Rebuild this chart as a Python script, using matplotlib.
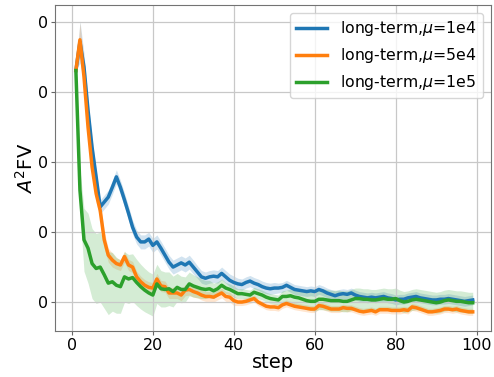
import numpy as np
import matplotlib
matplotlib.use("Agg")
import matplotlib.pyplot as plt
from matplotlib.ticker import FormatStrFormatter

steps = list(range(1, 100))

labels = ["long-term,$\\mu$=1e4", "long-term,$\\mu$=5e4", "long-term,$\\mu$=1e5"]

mean_1e4 = [
    0.331, 0.372, 0.336, 0.274, 0.221, 0.179, 0.136, 0.143, 0.150, 0.164,
    0.179, 0.164, 0.146, 0.127, 0.107, 0.093, 0.086, 0.086, 0.090, 0.081,
    0.086, 0.077, 0.067, 0.057, 0.050, 0.053, 0.056, 0.053, 0.057, 0.050,
    0.043, 0.036, 0.034, 0.036, 0.037, 0.036, 0.041, 0.036, 0.031, 0.028,
    0.026, 0.025, 0.028, 0.030, 0.027, 0.025, 0.022, 0.020, 0.019, 0.020,
    0.020, 0.021, 0.024, 0.021, 0.018, 0.017, 0.016, 0.015, 0.016, 0.015,
    0.018, 0.016, 0.013, 0.011, 0.009, 0.011, 0.012, 0.011, 0.013, 0.010,
    0.008, 0.007, 0.006, 0.007, 0.006, 0.007, 0.008, 0.006, 0.005, 0.003,
    0.004, 0.004, 0.006, 0.007, 0.008, 0.006, 0.005, 0.004, 0.003, 0.003,
    0.004, 0.004, 0.005, 0.004, 0.003, 0.002, 0.001, 0.002, 0.003,
]
mean_5e4 = [
    0.331, 0.375, 0.322, 0.250, 0.193, 0.155, 0.131, 0.089, 0.067, 0.060,
    0.055, 0.053, 0.065, 0.053, 0.050, 0.036, 0.029, 0.024, 0.021, 0.020,
    0.033, 0.023, 0.022, 0.013, 0.013, 0.013, 0.010, 0.017, 0.018, 0.015,
    0.013, 0.010, 0.008, 0.008, 0.007, 0.010, 0.013, 0.008, 0.007, 0.002,
    0.000, 0.000, 0.001, 0.003, 0.005, 0.000, -0.003, -0.006, -0.007, -0.007,
    -0.008, -0.004, -0.002, -0.004, -0.006, -0.007, -0.008, -0.009, -0.010, -0.010,
    -0.005, -0.006, -0.008, -0.010, -0.010, -0.010, -0.008, -0.009, -0.009, -0.011,
    -0.013, -0.014, -0.013, -0.012, -0.014, -0.011, -0.011, -0.011, -0.012, -0.012,
    -0.012, -0.011, -0.012, -0.007, -0.008, -0.010, -0.012, -0.014, -0.014, -0.013,
    -0.012, -0.010, -0.010, -0.011, -0.010, -0.012, -0.013, -0.014, -0.014,
]
mean_1e5 = [
    0.331, 0.160, 0.089, 0.077, 0.055, 0.048, 0.050, 0.039, 0.027, 0.029,
    0.024, 0.022, 0.036, 0.033, 0.035, 0.028, 0.022, 0.017, 0.013, 0.010,
    0.026, 0.019, 0.018, 0.019, 0.015, 0.021, 0.018, 0.018, 0.026, 0.023,
    0.021, 0.019, 0.018, 0.019, 0.016, 0.019, 0.024, 0.020, 0.018, 0.015,
    0.012, 0.012, 0.011, 0.010, 0.014, 0.012, 0.010, 0.007, 0.005, 0.004,
    0.003, 0.008, 0.008, 0.009, 0.007, 0.006, 0.004, 0.002, 0.001, 0.001,
    0.004, 0.004, 0.003, 0.002, 0.002, 0.002, 0.001, 0.001, 0.003, 0.005,
    0.005, 0.004, 0.004, 0.003, 0.003, 0.004, 0.005, 0.004, 0.004, 0.005,
    0.002, 0.000, 0.001, 0.003, 0.004, 0.003, 0.002, 0.001, 0.000, -0.001,
    0.000, 0.002, 0.003, 0.002, 0.001, 0.001, 0.000, -0.001, -0.001,
]

std_1e4 = [
    0.000, 0.030, 0.020, 0.015, 0.012, 0.010, 0.010, 0.010, 0.010, 0.010,
    0.010, 0.010, 0.010, 0.010, 0.010, 0.010, 0.010, 0.010, 0.010, 0.010,
    0.010, 0.010, 0.010, 0.010, 0.010, 0.010, 0.010, 0.010, 0.010, 0.010,
    0.009, 0.009, 0.009, 0.009, 0.009, 0.009, 0.009, 0.009, 0.009, 0.009,
    0.008, 0.008, 0.008, 0.008, 0.008, 0.008, 0.008, 0.008, 0.008, 0.008,
    0.007, 0.007, 0.007, 0.007, 0.007, 0.007, 0.007, 0.007, 0.007, 0.007,
    0.007, 0.007, 0.007, 0.007, 0.007, 0.007, 0.007, 0.007, 0.007, 0.007,
    0.007, 0.007, 0.007, 0.007, 0.007, 0.007, 0.007, 0.007, 0.007, 0.007,
    0.007, 0.007, 0.007, 0.007, 0.007, 0.007, 0.007, 0.007, 0.007, 0.007,
    0.007, 0.007, 0.007, 0.007, 0.007, 0.007, 0.007, 0.007, 0.007,
]
std_5e4 = [
    0.000, 0.025, 0.020, 0.015, 0.015, 0.012, 0.012, 0.012, 0.010, 0.010,
    0.008, 0.008, 0.008, 0.008, 0.008, 0.008, 0.008, 0.008, 0.008, 0.008,
    0.008, 0.008, 0.008, 0.008, 0.008, 0.008, 0.008, 0.008, 0.008, 0.008,
    0.007, 0.007, 0.007, 0.007, 0.007, 0.007, 0.007, 0.007, 0.007, 0.007,
    0.005, 0.005, 0.005, 0.005, 0.005, 0.005, 0.005, 0.005, 0.005, 0.005,
    0.005, 0.005, 0.005, 0.005, 0.005, 0.005, 0.005, 0.005, 0.005, 0.005,
    0.005, 0.005, 0.005, 0.005, 0.005, 0.005, 0.005, 0.005, 0.005, 0.005,
    0.005, 0.005, 0.005, 0.005, 0.005, 0.005, 0.005, 0.005, 0.005, 0.005,
    0.005, 0.005, 0.005, 0.005, 0.005, 0.005, 0.005, 0.005, 0.005, 0.005,
    0.005, 0.005, 0.005, 0.005, 0.005, 0.005, 0.005, 0.005, 0.005,
]
std_1e5 = [
    0.000, 0.030, 0.045, 0.050, 0.050, 0.050, 0.050, 0.048, 0.045, 0.042,
    0.040, 0.038, 0.036, 0.035, 0.034, 0.033, 0.032, 0.031, 0.030, 0.030,
    0.028, 0.026, 0.025, 0.024, 0.022, 0.020, 0.019, 0.018, 0.017, 0.016,
    0.015, 0.014, 0.013, 0.012, 0.011, 0.010, 0.009, 0.008, 0.008, 0.008,
    0.007, 0.007, 0.007, 0.007, 0.007, 0.007, 0.007, 0.007, 0.007, 0.007,
    0.007, 0.008, 0.009, 0.010, 0.011, 0.012, 0.012, 0.013, 0.013, 0.014,
    0.015, 0.015, 0.015, 0.015, 0.015, 0.015, 0.015, 0.015, 0.015, 0.015,
    0.015, 0.015, 0.015, 0.015, 0.015, 0.015, 0.015, 0.015, 0.015, 0.015,
    0.015, 0.015, 0.015, 0.015, 0.015, 0.015, 0.015, 0.015, 0.015, 0.015,
    0.015, 0.015, 0.015, 0.015, 0.015, 0.015, 0.015, 0.015, 0.015,
]

colors = ["#1f77b4", "#ff7f0e", "#2ca02c"]

fig = plt.figure(figsize=(4.94, 3.77), dpi=100)
ax = fig.add_axes([0.111, 0.122, 0.882, 0.864])

x = np.array(steps)
for mean, std, color, label in zip(
    [mean_1e4, mean_5e4, mean_1e5],
    [std_1e4, std_5e4, std_1e5],
    colors,
    labels,
):
    mean = np.array(mean)
    std = np.array(std)
    ax.plot(x, mean, color=color, lw=2.5, label=label)
    ax.fill_between(x, mean - std, mean + std, color=color, alpha=0.2, lw=0)

ax.set_xlim(-4.2, 103.4)
ax.set_ylim(-0.0414, 0.4243)
ax.set_xticks([0, 20, 40, 60, 80, 100])
ax.set_yticks([0.0, 0.1, 0.2, 0.3, 0.4])
ax.yaxis.set_major_formatter(FormatStrFormatter("%.0f"))
ax.tick_params(labelsize=11.5, color="0.4", length=3, pad=2)
ax.grid(True, color="#c8c8c8", lw=0.9)
for sp in ax.spines.values():
    sp.set_color("0.45")

ax.set_xlabel("step", fontsize=14, labelpad=0)
ax.set_ylabel("$A^2$FV", fontsize=14, labelpad=1)
ax.legend(loc="upper right", fontsize=11.3, handlelength=2.0)

fig.savefig("out.png", dpi=100)
